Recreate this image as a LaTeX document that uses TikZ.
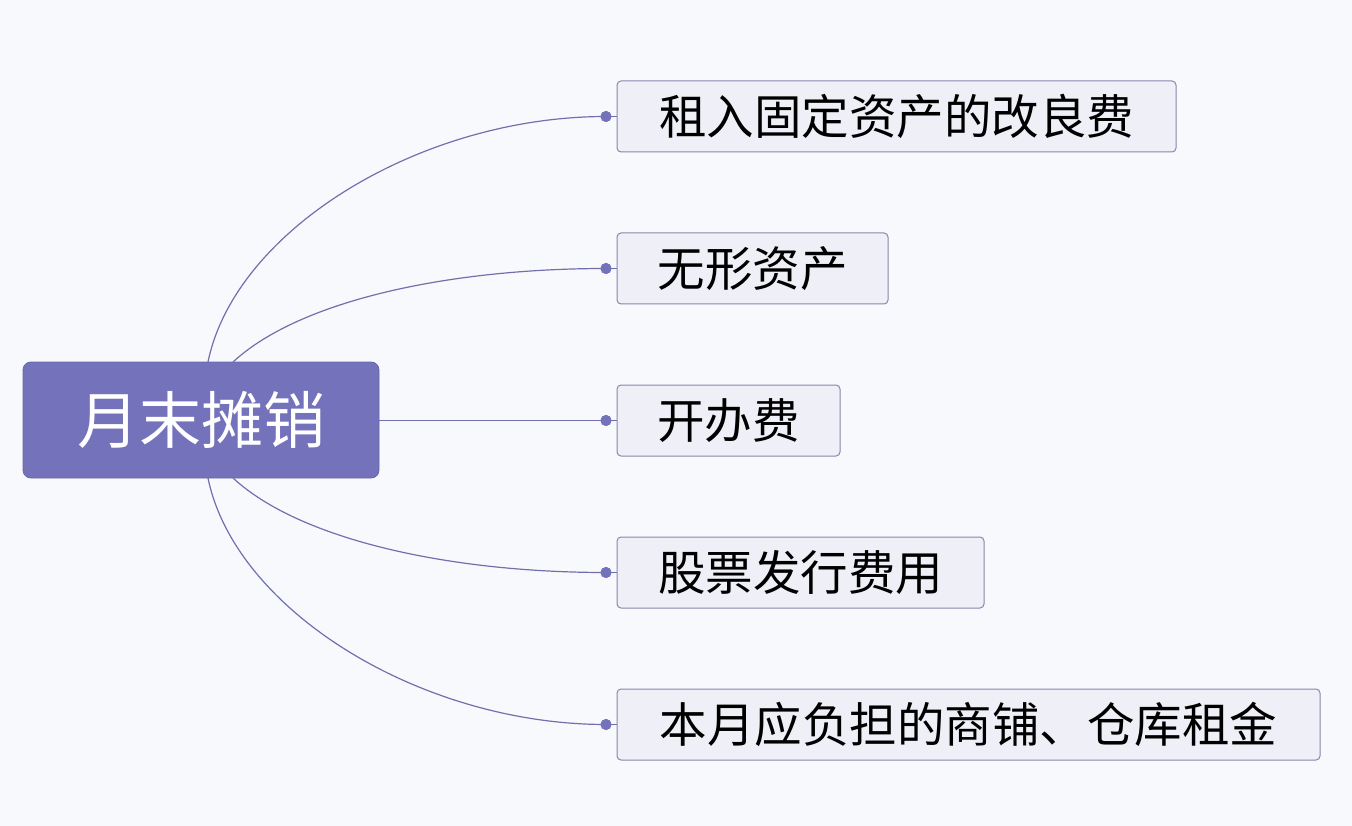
\documentclass[tikz,border=0pt]{standalone}
\usepackage{fontspec}
\newfontfamily\cjk{Noto Sans CJK SC}
\definecolor{bg}{HTML}{F8F9FC}
\definecolor{rootfill}{HTML}{7472BB}
\definecolor{childfill}{HTML}{EFEFF7}
\definecolor{childborder}{HTML}{8886AE}
\definecolor{linec}{HTML}{716FAE}
\begin{document}
\begin{tikzpicture}[x=1pt,y=-1pt,
  rootbox/.style={draw=rootfill!90!black, line width=0.8pt, fill=rootfill, rounded corners=8pt, inner sep=0pt,
    minimum width=356pt, minimum height=116pt, text=white, font=\cjk\fontsize{62}{64}\selectfont},
  childbox/.style={draw=childborder, line width=1pt, fill=childfill, rounded corners=4pt, inner sep=0pt,
    minimum height=71pt, text=black, font=\cjk\fontsize{47.5}{50}\selectfont},
  conn/.style={draw=linec, line width=1.2pt},
  dotc/.style={circle, fill=rootfill, inner sep=0pt, minimum size=11pt}]
\fill[bg] (0,0) rectangle (1352,826);
\useasboundingbox (0,0) rectangle (1352,826);

\node[rootbox] (root) at (201,420) {月末摊销};

\node[childbox, minimum width=559pt] (c1) at (896.5,116.5) {租入固定资产的改良费};
\node[childbox, minimum width=271pt] (c2) at (752.5,268.5) {无形资产};
\node[childbox, minimum width=223pt] (c3) at (728.5,420.5) {开办费};
\node[childbox, minimum width=367pt] (c4) at (800.5,572.5) {股票发行费用};
\node[childbox, minimum width=703pt] (c5) at (968.5,724.5) {本月应负担的商铺、仓库租金};

\coordinate (r1) at (208,362);
\coordinate (r2) at (233,362);
\coordinate (r4) at (233,478);
\coordinate (r5) at (208,478);

\node[dotc] (d1) at (606,116.5) {};
\node[dotc] (d2) at (606,268.5) {};
\node[dotc] (d3) at (606,420.5) {};
\node[dotc] (d4) at (606,572.5) {};
\node[dotc] (d5) at (606,724.5) {};

\draw[conn] (r1) .. controls (235,230) and (420,116.5) .. (d1.center);
\draw[conn] (r2) .. controls (300,300) and (450,268.5) .. (d2.center);
\draw[conn] (root.east |- d3) -- (d3.center);
\draw[conn] (r4) .. controls (300,540) and (450,572.5) .. (d4.center);
\draw[conn] (r5) .. controls (235,610) and (420,724.5) .. (d5.center);

\foreach \i in {1,...,5} \draw[conn] (d\i.center) -- (c\i.west);
\foreach \i in {1,...,5} \node[dotc] at (d\i) {};
\end{tikzpicture}
\end{document}
